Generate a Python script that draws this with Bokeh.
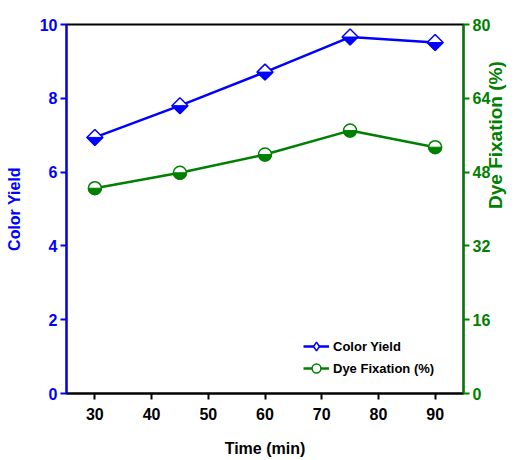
import math
from bokeh.plotting import figure
from bokeh.models import (Range1d, LinearAxis, FixedTicker, Legend, LegendItem,
                          ColumnDataSource)
from bokeh.embed import file_html
from bokeh.resources import INLINE

# ---- data ----
time_min = [30, 45, 60, 75, 90]
color_yield = [6.94, 7.80, 8.71, 9.66, 9.51]
dye_fixation = [44.5, 47.85, 51.8, 57.0, 53.4]
x_ticks = [30, 40, 50, 60, 70, 80, 90]
left_ticks = [0, 2, 4, 6, 8, 10]
right_ticks = [0, 16, 32, 48, 64, 80]

BLUE = "#0000FF"
GREEN = "#008000"
FONT = "Liberation Sans"

FW, FH = 397, 369
X0, X1 = 25, 95
Y0, Y1 = 0, 10

p = figure(frame_width=FW, frame_height=FH, x_range=Range1d(X0, X1), y_range=Range1d(Y0, Y1),
           output_backend="svg", toolbar_location=None,
           min_border_left=66, min_border_right=51, min_border_top=24, min_border_bottom=67,
           background_fill_color="white", border_fill_color="white")
p.extra_y_ranges = {"fix": Range1d(0, 80)}
p.xgrid.visible = False
p.ygrid.visible = False
p.outline_line_color = "black"
p.outline_line_width = 2

def style_axis(ax, color, ticks):
    ax.ticker = FixedTicker(ticks=ticks)
    ax.axis_line_color = color
    ax.axis_line_width = 2
    ax.major_tick_line_color = color
    ax.major_tick_line_width = 2
    ax.major_tick_out = 6
    ax.major_tick_in = 0
    ax.minor_tick_line_color = None
    ax.major_label_text_color = color
    ax.major_label_text_font = FONT
    ax.major_label_text_font_style = "bold"
    ax.major_label_text_font_size = "16px"
    ax.axis_label_text_color = color
    ax.axis_label_text_font = FONT
    ax.axis_label_text_font_style = "bold"
    ax.axis_label_text_font_size = "16px"

xax = p.xaxis[0]
style_axis(xax, "black", x_ticks)
xax.axis_label = "Time (min)"
xax.major_label_standoff = 8
xax.axis_label_standoff = 17

yax = p.yaxis[0]
style_axis(yax, BLUE, left_ticks)
yax.axis_label = "Color Yield"
yax.major_label_standoff = 3
yax.axis_label_standoff = 14

rax = LinearAxis(y_range_name="fix")
style_axis(rax, GREEN, right_ticks)
rax.major_label_standoff = 3
p.add_layout(rax, "right")

# title-only axis for the right side, text reading bottom-to-top
tax = LinearAxis(y_range_name="fix", axis_label="Dye Fixation (%)", bounds=(23.7, 24.5))
style_axis(tax, GREEN, [])
tax.axis_line_color = None
tax.major_tick_line_color = None
tax.major_tick_out = 0
tax.axis_label_standoff = 2
tax.axis_label_text_font_size = "19px"
if "axis_label_orientation" in tax.properties():
    tax.axis_label_orientation = math.pi / 2
p.add_layout(tax, "right")

# ---- Color yield ----
src_cy = ColumnDataSource(dict(x=time_min, y=color_yield))
l1 = p.line("x", "y", source=src_cy, line_color=BLUE, line_width=2.5)
p.scatter("x", "y", source=src_cy, marker="square", angle=math.pi / 4, size=11.3,
          fill_color="white", line_color=BLUE, line_width=1.5)
# bottom halves of diamonds
dx = 8.0 * (X1 - X0) / FW
dy = 8.0 * (Y1 - Y0) / FH
p.patches([[x - dx, x + dx, x] for x in time_min],
          [[y, y, y - dy] for y in color_yield],
          fill_color=BLUE, line_color=BLUE, line_width=1)

# ---- Dye fixation ----
src_df = ColumnDataSource(dict(x=time_min, y=dye_fixation))
l2 = p.line("x", "y", source=src_df, line_color=GREEN, line_width=2.5, y_range_name="fix")
m2 = p.scatter("x", "y", source=src_df, marker="circle", size=13,
               fill_color="white", line_color=GREEN, line_width=1.5, y_range_name="fix")
p.wedge("x", "y", source=src_df, radius=6.5, radius_units="screen",
        start_angle=math.pi, end_angle=2 * math.pi,
        fill_color=GREEN, line_color=GREEN, line_width=1, y_range_name="fix")

# legend-only diamond marker (no visible points in the plot)
src_leg = ColumnDataSource(dict(x=time_min, y=[float("nan")] * len(time_min)))
m1_leg = p.scatter("x", "y", source=src_leg, marker="diamond", size=13,
                   fill_color="white", line_color=BLUE, line_width=1.5)

legend = Legend(items=[LegendItem(label="Color Yield", renderers=[l1, m1_leg]),
                       LegendItem(label="Dye Fixation (%)", renderers=[l2, m2])],
                location=(237, 14), padding=0, margin=0, spacing=0,
                glyph_width=26, glyph_height=22, label_standoff=4,
                label_text_font=FONT, label_text_font_style="bold",
                label_text_font_size="13px", label_text_color="black",
                background_fill_alpha=0, border_line_color=None)
p.add_layout(legend)

open("out.html", "w").write(file_html(p, INLINE))
